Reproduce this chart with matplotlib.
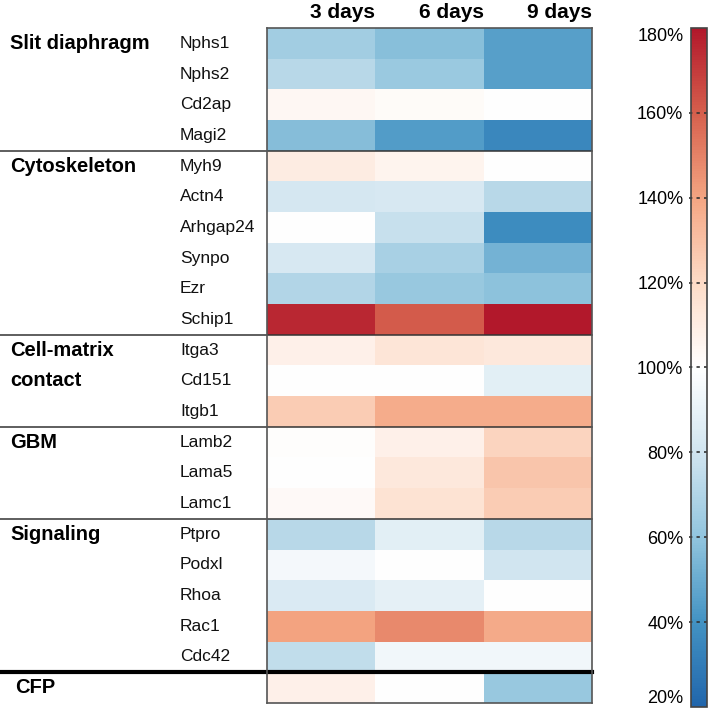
import numpy as np
import matplotlib
matplotlib.use('Agg')
import matplotlib.pyplot as plt
from matplotlib.colors import LinearSegmentedColormap

plt.rcParams['font.family'] = ['Liberation Sans', 'DejaVu Sans']

days = ['3 days', '6 days', '9 days']
group_names = ['Slit diaphragm', 'Cytoskeleton', 'Cell-matrix\ncontact', 'GBM', 'Signaling', 'CFP']
group_sizes = [4, 6, 3, 3, 5, 1]
genes = ['Nphs1', 'Nphs2', 'Cd2ap', 'Magi2',
         'Myh9', 'Actn4', 'Arhgap24', 'Synpo', 'Ezr', 'Schip1',
         'Itga3', 'Cd151', 'Itgb1',
         'Lamb2', 'Lama5', 'Lamc1',
         'Ptpro', 'Podxl', 'Rhoa', 'Rac1', 'Cdc42',
         '']
# relative expression (%) at 3, 6, 9 days
values = [
    [65, 58, 45],
    [72, 63, 45],
    [104, 102, 100],
    [57, 44, 35],
    [110, 106, 100],
    [82, 83, 72],
    [100, 77, 37],
    [83, 67, 53],
    [70, 62, 59],
    [175, 161, 180],
    [108, 114, 112],
    [100, 100, 88],
    [125, 137, 137],
    [101, 108, 122],
    [100, 112, 128],
    [103, 115, 125],
    [72, 88, 72],
    [95, 100, 80],
    [84, 89, 100],
    [140, 148, 138],
    [75, 94, 94],
    [108, 100, 62],
]
cbar_ticks = [20, 40, 60, 80, 100, 120, 140, 160, 180]

data = np.array(values)
cmap = LinearSegmentedColormap.from_list('rb', ['#2166ac', '#4393c3', '#92c5de', '#d1e5f0', '#ffffff',
                                               '#fddbc7', '#f4a582', '#d6604d', '#b2182b'])

W, H = 709, 710
fig = plt.figure(figsize=(W / 100, H / 100), dpi=100)
ax = fig.add_axes([267 / W, 1 - 703 / H, 325 / W, 675 / H])
im = ax.imshow(data, aspect='auto', cmap=cmap, vmin=20, vmax=180, interpolation='nearest')
ax.set_xticks([])
ax.set_yticks([])
for s in ax.spines.values():
    s.set_color('#555555')
    s.set_linewidth(1.2)

ytr = ax.get_yaxis_transform()
xlab = (180 - 267) / 325
for i, g in enumerate(genes):
    if g:
        ax.text(xlab, i, g, transform=ytr, ha='left', va='center', fontsize=12.5, color='#111111')

x0 = -267 / 325
row = 0
for k, (name, n) in enumerate(zip(group_names, group_sizes)):
    for j, line in enumerate(name.split('\n')):
        ax.text(x0 + 10 / 325 + (5 / 325 if k == len(group_names) - 1 else 0), row + j, line,
                transform=ytr, ha='left', va='center', fontsize=14.5, fontweight='bold')
    row += n
    if k < len(group_names) - 1:
        thick = (k == len(group_names) - 2)
        ax.plot([x0, 1], [row - 0.5, row - 0.5], transform=ytr, clip_on=False,
                color='black' if thick else '#333333', lw=3 if thick else 1.1)

for j, d in enumerate(days):
    ax.text(j + 0.5, 1 + 16 / 675, d, transform=ax.get_xaxis_transform(),
            ha='right', va='center', fontsize=15, fontweight='bold')

# colorbar with dashed tick lines across the bar
cax = fig.add_axes([691 / W, 1 - 707 / H, 16 / W, 679 / H])
cb = fig.colorbar(im, cax=cax, ticks=cbar_ticks)
cax.yaxis.set_ticks_position('left')
cax.yaxis.set_label_position('left')
cb.set_ticklabels([f'{t}%' for t in cbar_ticks])
cax.tick_params(length=0, pad=5.5, labelsize=13)
labels = cax.get_yticklabels()
labels[0].set_va('bottom')
labels[-1].set_va('top')
for t in cbar_ticks[1:-1]:
    cax.axhline(t, xmin=-0.1, xmax=1, color='#333333', lw=1.2, ls=(0, (2, 2.5)), clip_on=False)
cb.outline.set_edgecolor('#444444')
cb.outline.set_linewidth(1.2)

fig.savefig('out.png', dpi=100)
